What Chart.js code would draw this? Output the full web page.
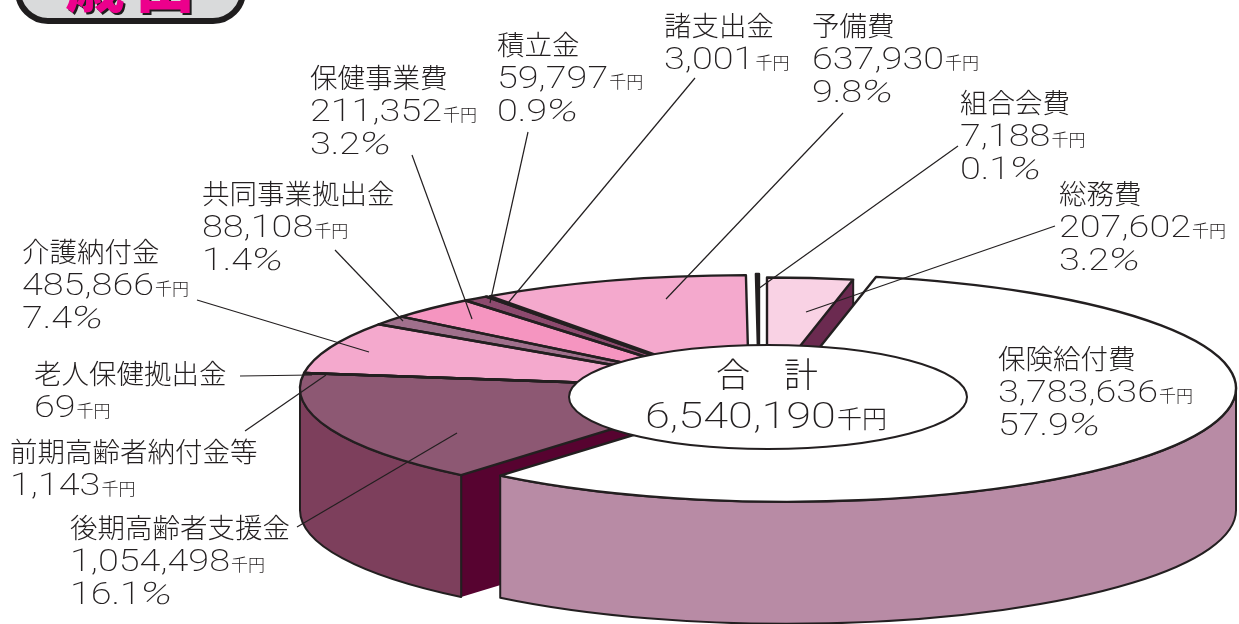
<!DOCTYPE html>
<html lang="ja">
<head>
<meta charset="utf-8">
<title>歳出</title>
<script src="https://cdn.jsdelivr.net/npm/chart.js@4/dist/chart.umd.min.js"></script>
<style>
  html, body { margin: 0; padding: 0; background: #fff; overflow: hidden; }
  canvas { display: block; }
</style>
</head>
<body>
<canvas id="expenseChart" width="1239" height="624"></canvas>
<script>
// 歳出の内訳 (単位: 千円)
const categories = ['総務費', '保険給付費', '後期高齢者支援金', '前期高齢者納付金等', '老人保健拠出金', '介護納付金',
  '共同事業拠出金', '保健事業費', '積立金', '諸支出金', '予備費', '組合会費'];
const amounts = [207602, 3783636, 1054498, 1143, 69, 485866, 88108, 211352, 59797, 3001, 637930, 7188];
const percents = ['3.2', '57.9', '16.1', null, null, '7.4', '1.4', '3.2', '0.9', null, '9.8', '0.1'];
const totalTitle = '合　計';
const totalAmount = 6540190;

// 色
const topColors = ['#f9d2e4', '#ffffff', '#8d5873', '#8d5873', '#8d5873', '#f4a9cd', '#a0708c', '#f595c0', '#8d4a6e', '#5a1a40', '#f4a9cd', '#231f20'];
const wallColors = [null, '#b88ba5', '#7d3f5c', null, null, null, null, null, null, null, null, null];
const faceColors = ['#6b2a50', null, '#570330', null, null, null, null, null, null, null, null, null];
const inkColor = '#231f20';

// 切り離した扇形のずれと半径
const shiftX = [-1, 19, -22, -22, -22, -22, -22, -22, -22, -22, -19, -9];
const shiftY = [-2, 1, 1, 1, 1, 1, 1, 1, 1, 1, 0, -1];
const radii = [435, 449, 446, 446, 446, 446, 446, 446, 446, 446, 446, 450];
const squash = 0.253;
const depth = 122;
const centerY = 388;

// テキストの配置 [左端, 1行目のベースライン]
const labelAt = [[1059, 204], [998, 369], [70, 538], [10, 462], [34, 384], [22, 262], [202, 204], [310, 88], [497, 55], [664, 36], [812, 36], [960, 113]];
// 引出線 [x1, y1, x2, y2]
const leaders = [[1055, 226, 806, 312], null, [297, 527, 457, 433], [245, 431, 326, 375], [240, 376, 312, 375],
  [197, 300, 369, 352], [335, 250, 403, 321], [412, 155, 472, 319], [528, 132, 490, 303], [695, 78, 508, 303], [843, 113, 666, 299], [958, 146, 758, 289]];

function squashY(y) {
  return centerY + squash * (y - centerY);
}

// 数字は横長の細い字形にする
function numberText(ctx, text, x, y, size) {
  ctx.save();
  ctx.translate(x, y);
  ctx.scale(1.22, 1);
  ctx.font = '200 ' + size + 'px Roboto';
  ctx.fillText(text, 0, 0);
  const w = ctx.measureText(text).width * 1.22;
  ctx.restore();
  return w;
}

// パーセント記号だけ斜体で幅広にする
function percentSign(ctx, x, y, size) {
  ctx.save();
  ctx.translate(x, y);
  ctx.transform(1.4, 0, -0.22, 1, 0, 0);
  ctx.font = '200 ' + size + 'px Roboto';
  ctx.fillText('%', 0, 0);
  ctx.restore();
}

const pie3d = {
  id: 'pie3d',
  afterDatasetsUpdate(chart) {
    // 扇形ごとに中心と半径を振り直す
    chart.getDatasetMeta(0).data.forEach((arc, i) => {
      arc.x += shiftX[i];
      arc.y += shiftY[i];
      arc.outerRadius = radii[i];
    });
  },
  beforeDatasetsDraw(chart) {
    const ctx = chart.ctx;
    const arcs = chart.getDatasetMeta(0).data;
    ctx.save();
    ctx.strokeStyle = inkColor;
    ctx.lineWidth = 2;
    ctx.lineJoin = 'round';

    // 切り口
    arcs.forEach((arc, i) => {
      if (!faceColors[i]) return;
      const a = Math.cos(arc.startAngle) < 0 ? arc.startAngle : arc.endAngle;
      const cy = squashY(arc.y);
      const ex = arc.x + arc.outerRadius * Math.cos(a);
      const ey = cy + squash * arc.outerRadius * Math.sin(a);
      ctx.beginPath();
      ctx.moveTo(arc.x, cy);
      ctx.lineTo(ex, ey);
      ctx.lineTo(ex, ey + depth);
      ctx.lineTo(arc.x, cy + depth);
      ctx.closePath();
      ctx.fillStyle = faceColors[i];
      ctx.fill();
      ctx.beginPath();
      ctx.moveTo(ex, ey);
      ctx.lineTo(ex, ey + depth);
      ctx.stroke();
    });

    // 外周の側面
    arcs.forEach((arc, i) => {
      if (!wallColors[i]) return;
      const a0 = Math.max(arc.startAngle, 0);
      const a1 = Math.min(arc.endAngle, Math.PI);
      const cy = squashY(arc.y);
      const rx = arc.outerRadius;
      const ry = rx * squash;
      ctx.beginPath();
      ctx.ellipse(arc.x, cy, rx, ry, 0, a0, a1);
      ctx.ellipse(arc.x, cy + depth, rx, ry, 0, a1, a0, true);
      ctx.closePath();
      ctx.fillStyle = wallColors[i];
      ctx.fill();
      ctx.stroke();
    });
    ctx.restore();

    // 上面は縦につぶして描く
    ctx.save();
    ctx.translate(0, centerY);
    ctx.scale(1, squash);
    ctx.translate(0, -centerY);
  },
  afterDatasetsDraw(chart) {
    const ctx = chart.ctx;
    ctx.restore();

    const arcs = chart.getDatasetMeta(0).data;
    ctx.save();
    ctx.strokeStyle = inkColor;
    ctx.lineWidth = 2.4;
    ctx.lineJoin = 'round';
    arcs.forEach((arc) => {
      const cy = squashY(arc.y);
      ctx.beginPath();
      ctx.moveTo(arc.x, cy);
      ctx.ellipse(arc.x, cy, arc.outerRadius, arc.outerRadius * squash, 0, arc.startAngle, arc.endAngle);
      ctx.closePath();
      ctx.stroke();
    });

    // 中央の合計
    ctx.beginPath();
    ctx.ellipse(768, 397, 199, 52, 0, 0, Math.PI * 2);
    ctx.fillStyle = '#fff';
    ctx.fill();
    ctx.lineWidth = 2;
    ctx.stroke();
    ctx.restore();
  },
  afterDraw(chart) {
    const ctx = chart.ctx;
    ctx.save();

    // 引出線
    ctx.strokeStyle = inkColor;
    ctx.lineWidth = 1.2;
    leaders.forEach((l) => {
      if (!l) return;
      ctx.beginPath();
      ctx.moveTo(l[0], l[1]);
      ctx.lineTo(l[2], l[3]);
      ctx.stroke();
    });

    // 見出し
    ctx.beginPath();
    ctx.roundRect(18, -60, 225, 81, 30);
    ctx.fillStyle = '#d9dadb';
    ctx.fill();
    ctx.lineWidth = 6;
    ctx.strokeStyle = '#1f1d1e';
    ctx.stroke();
    ctx.font = '900 60px "Noto Sans CJK JP"';
    ctx.fillStyle = '#1f1d1e';
    ctx.fillText('歳', 67, 9);
    ctx.fillText('出', 137, 9);
    ctx.fillStyle = '#ec008c';
    ctx.fillText('歳', 65, 7);
    ctx.fillText('出', 135, 7);

    // 各項目の名称・金額・構成比
    ctx.fillStyle = inkColor;
    categories.forEach((name, i) => {
      const [x, y] = labelAt[i];
      ctx.font = '300 27.5px "Noto Sans CJK JP"';
      ctx.fillText(name, x, y);
      const w = numberText(ctx, amounts[i].toLocaleString('en-US'), x, y + 33, 31);
      ctx.font = '300 17px "Noto Sans CJK JP"';
      ctx.fillText('千円', x + w + 1, y + 33);
      if (percents[i]) {
        const pw = numberText(ctx, percents[i], x, y + 66, 31);
        percentSign(ctx, x + pw - 3, y + 66, 31);
      }
    });

    // 合計
    ctx.font = '300 34px "Noto Sans CJK JP"';
    ctx.textAlign = 'center';
    ctx.fillText(totalTitle, 767, 387);
    ctx.textAlign = 'left';
    const tw = numberText(ctx, totalAmount.toLocaleString('en-US'), 645, 428, 37);
    ctx.font = '300 25px "Noto Sans CJK JP"';
    ctx.fillText('千円', 645 + tw + 1, 428);
    ctx.restore();
  }
};

new Chart(document.getElementById('expenseChart'), {
  type: 'pie',
  data: {
    labels: categories,
    datasets: [{
      data: amounts,
      backgroundColor: topColors,
      borderWidth: 0,
      radius: 450,
      clip: false
    }]
  },
  options: {
    responsive: false,
    animation: false,
    layout: { padding: { left: 297, top: 152, bottom: 0, right: 0 } },
    plugins: {
      legend: { display: false },
      tooltip: { enabled: false }
    }
  },
  plugins: [pie3d]
});
</script>
</body>
</html>
